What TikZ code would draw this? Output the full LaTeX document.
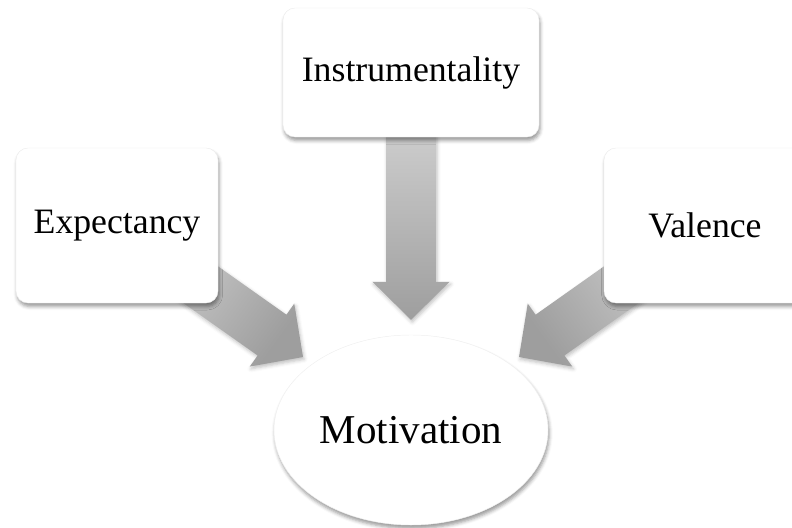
\documentclass[tikz,border=0pt]{standalone}
\usepackage{fontspec}
\setmainfont{Liberation Serif}
\usetikzlibrary{shapes.geometric, shadows.blur, calc, backgrounds}

% shaded block arrow from #1 (tail) to #2 (tip)
\newcommand{\blockarrow}[3]{%
  \coordinate (hb) at ($(#2)!32.4pt!(#1)$);
  \shade[bigarrow, shading angle=#3] (#2)
    -- ($(hb)!32.9pt!90:(#2)$) -- ($(hb)!21.3pt!90:(#2)$)
    -- ($(#1)!21.3pt!90:(#2)$) -- ($(#1)!21.3pt!-90:(#2)$)
    -- ($(hb)!21.3pt!-90:(#2)$) -- ($(hb)!32.9pt!-90:(#2)$) -- cycle;
}

\begin{document}
\begin{tikzpicture}[x=0.03cm, y=0.03cm,
  box/.style={draw=black!7, fill=white, rounded corners=0.36cm,
    minimum width=6.06cm, minimum height=4.65cm,
    font=\fontsize{30.5}{36}\selectfont,
    blur shadow={shadow xshift=1pt, shadow yshift=-3pt, shadow opacity=40, shadow blur radius=3pt}},
  motiv/.style={ellipse, draw=black!6, fill=white,
    minimum width=8.22cm, minimum height=5.7cm,
    font=\fontsize{35}{42}\selectfont,
    blur shadow={shadow xshift=1pt, shadow yshift=-3pt, shadow opacity=40, shadow blur radius=3pt}},
  bigarrow/.style={top color=black!14, bottom color=black!38,
    blur shadow={shadow xshift=1pt, shadow yshift=-2pt, shadow opacity=25, shadow blur radius=3pt}}]
  \useasboundingbox (0,0) rectangle (792,527);

  \node (mot) [motiv] at (411,97) {Motivation};
  \node (ins) [box, minimum width=7.68cm, minimum height=3.87cm] at (411,454.5) {Instrumentality};
  \node (exp) [box] at (117,301.5) {Expectancy};
  \node (val) [box] at (705,301.5) {Valence};

  % arrow tips above the ellipse
  \coordinate (tipI) at ($(mot.north)+(0,15)$);
  \coordinate (tipE) at ($(mot.center)+(-108,73)$);
  \coordinate (tipV) at ($(mot.center)+(108,73)$);

  \begin{pgfonlayer}{background}
    \blockarrow{ins.center}{tipI}{0}
    \blockarrow{exp.center}{tipE}{54}
    \blockarrow{val.center}{tipV}{-54}
  \end{pgfonlayer}
\end{tikzpicture}
\end{document}
